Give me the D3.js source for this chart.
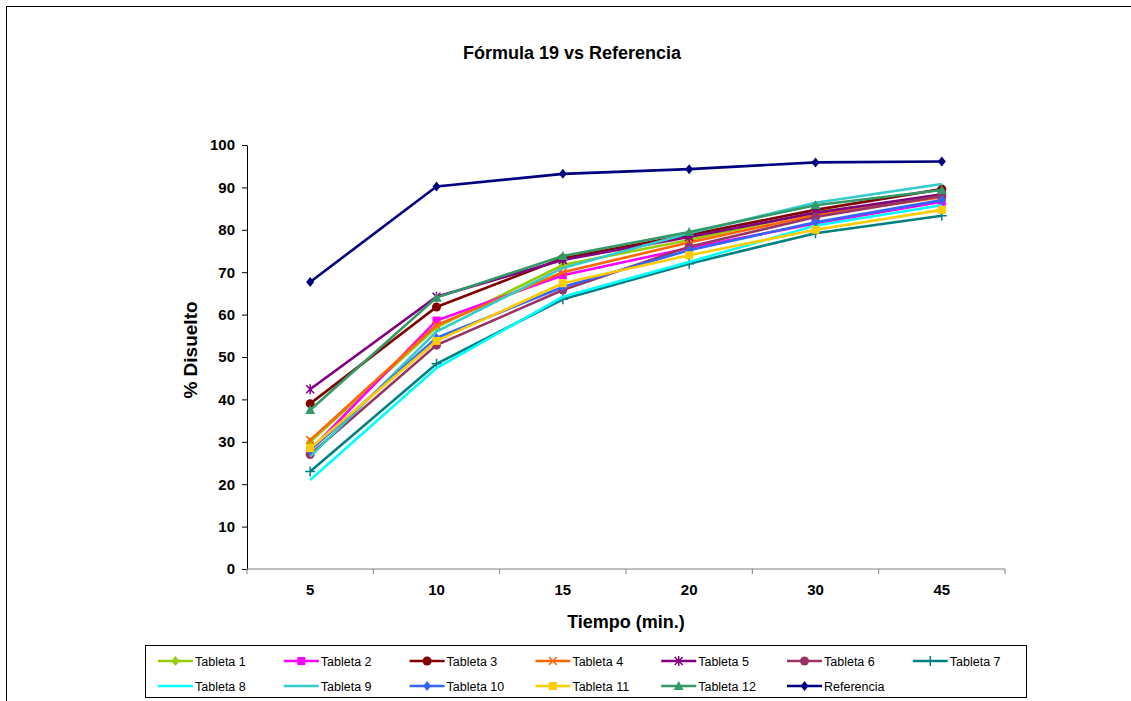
<!DOCTYPE html>
<html>
<head>
<meta charset="utf-8">
<script src="https://cdn.jsdelivr.net/npm/d3@7"></script>
<style>
  body { margin: 0; background: #fff; }
  svg { font-family: "Liberation Sans", Arial, sans-serif; }
</style>
</head>
<body>
<div id="chart"></div>
<script>
// data
const tiempos = ['5', '10', '15', '20', '30', '45'];
const yTicks = [0, 10, 20, 30, 40, 50, 60, 70, 80, 90, 100];

const tableta1 = [30.0, 57.0, 71.7, 77.6, 84.2, 87.8];
const tableta2 = [28.0, 58.6, 69.3, 75.7, 81.5, 86.6];
const tableta3 = [39.0, 61.8, 73.3, 78.8, 84.7, 89.6];
const tableta4 = [30.4, 57.5, 70.0, 77.0, 83.5, 87.7];
const tableta5 = [42.4, 64.2, 72.9, 78.3, 84.0, 88.4];
const tableta6 = [27.0, 52.8, 65.8, 76.0, 83.0, 88.0];
const tableta7 = [23.0, 48.4, 63.6, 72.0, 79.2, 83.3];
const tableta8 = [21.0, 47.4, 64.2, 72.4, 81.0, 85.8];
const tableta9 = [26.5, 56.0, 71.0, 79.2, 86.4, 90.8];
const tableta10 = [28.0, 54.5, 66.5, 75.2, 81.8, 87.0];
const tableta11 = [28.5, 53.8, 67.4, 74.0, 80.0, 84.7];
const tableta12 = [37.5, 64.0, 73.8, 79.5, 85.8, 89.4];
const referencia = [67.7, 90.2, 93.2, 94.3, 95.9, 96.1];

const series = [
  { name: 'Tableta 1', values: tableta1, color: '#99cc00', marker: 'diamond' },
  { name: 'Tableta 2', values: tableta2, color: '#ff00ff', marker: 'square' },
  { name: 'Tableta 3', values: tableta3, color: '#800000', marker: 'circle' },
  { name: 'Tableta 4', values: tableta4, color: '#ff6600', marker: 'x' },
  { name: 'Tableta 5', values: tableta5, color: '#800080', marker: 'star' },
  { name: 'Tableta 6', values: tableta6, color: '#993366', marker: 'circle' },
  { name: 'Tableta 7', values: tableta7, color: '#008080', marker: 'plus' },
  { name: 'Tableta 8', values: tableta8, color: '#00ffff', marker: 'dash' },
  { name: 'Tableta 9', values: tableta9, color: '#33cccc', marker: 'dash' },
  { name: 'Tableta 10', values: tableta10, color: '#3366ff', marker: 'diamond' },
  { name: 'Tableta 11', values: tableta11, color: '#ffcc00', marker: 'square' },
  { name: 'Tableta 12', values: tableta12, color: '#339966', marker: 'triangle' },
  { name: 'Referencia', values: referencia, color: '#000080', marker: 'diamond' }
];

const W = 1131, H = 701;
const plot = { left: 247, right: 1005, top: 145, bottom: 569 };

const svg = d3.select('#chart').append('svg')
  .attr('width', W).attr('height', H);

// outer chart frame (runs off the page on the right and bottom)
svg.append('rect')
  .attr('x', 6.5).attr('y', 6.5)
  .attr('width', W + 20).attr('height', H + 20)
  .attr('fill', 'none').attr('stroke', '#000').attr('stroke-width', 1);

svg.append('text')
  .attr('x', 572).attr('y', 59)
  .attr('text-anchor', 'middle')
  .style('font-size', '18px').style('font-weight', 'bold')
  .text('Fórmula 19 vs Referencia');

const x = d3.scaleBand().domain(tiempos).range([plot.left, plot.right]);
const y = d3.scaleLinear().domain([0, 100]).range([plot.bottom, plot.top]);
const cx = d => x(d) + x.bandwidth() / 2;

// y axis
svg.append('g')
  .attr('transform', `translate(${plot.left},0)`)
  .call(d3.axisLeft(y).tickValues(yTicks).tickSize(5).tickSizeOuter(0))
  .call(g => g.select('.domain').attr('stroke', '#000'))
  .call(g => g.selectAll('.tick line').attr('stroke', '#000'))
  .call(g => g.selectAll('.tick text')
    .attr('x', -12)
    .attr('fill', '#000')
    .style('font-size', '15px').style('font-weight', 'bold')
    .style('font-family', '"Liberation Sans", Arial, sans-serif'));

// x axis: labels centred in categories, ticks on boundaries
const xAxis = svg.append('g')
  .attr('transform', `translate(0,${plot.bottom})`);
xAxis.call(d3.axisBottom(x).tickSize(0).tickPadding(15))
  .call(g => g.select('.domain').remove())
  .call(g => g.selectAll('.tick text')
    .attr('fill', '#000')
    .style('font-size', '15px').style('font-weight', 'bold')
    .style('font-family', '"Liberation Sans", Arial, sans-serif'));
xAxis.append('line')
  .attr('x1', plot.left).attr('x2', plot.right)
  .attr('stroke', '#808080');
xAxis.selectAll('.bound')
  .data(tiempos.map(t => x(t)).concat([plot.right]))
  .enter().append('line')
  .attr('class', 'bound')
  .attr('x1', d => d).attr('x2', d => d)
  .attr('y1', 0).attr('y2', 5)
  .attr('stroke', '#808080');

svg.append('text')
  .attr('transform', 'translate(197,350) rotate(-90)')
  .attr('text-anchor', 'middle')
  .style('font-size', '19px').style('font-weight', 'bold')
  .text('% Disuelto');

svg.append('text')
  .attr('x', 626).attr('y', 628)
  .attr('text-anchor', 'middle')
  .style('font-size', '18px').style('font-weight', 'bold')
  .text('Tiempo (min.)');

function drawMarker(g, type, color, px, py) {
  const s = 4;
  if (type === 'diamond') {
    g.append('path')
      .attr('d', `M${px},${py - s - 1}L${px + s},${py}L${px},${py + s + 1}L${px - s},${py}Z`)
      .attr('fill', color);
  } else if (type === 'square') {
    g.append('rect')
      .attr('x', px - s).attr('y', py - s).attr('width', 2 * s).attr('height', 2 * s)
      .attr('fill', color);
  } else if (type === 'circle') {
    g.append('circle').attr('cx', px).attr('cy', py).attr('r', s + 0.5).attr('fill', color);
  } else if (type === 'triangle') {
    g.append('path')
      .attr('d', `M${px},${py - s - 1}L${px + s + 1},${py + s}L${px - s - 1},${py + s}Z`)
      .attr('fill', color);
  } else if (type === 'x') {
    g.append('path')
      .attr('d', `M${px - s},${py - s}L${px + s},${py + s}M${px - s},${py + s}L${px + s},${py - s}`)
      .attr('stroke', color).attr('stroke-width', 1.5);
  } else if (type === 'star') {
    g.append('path')
      .attr('d', `M${px - s},${py - s}L${px + s},${py + s}M${px - s},${py + s}L${px + s},${py - s}M${px},${py - s - 1}L${px},${py + s + 1}`)
      .attr('stroke', color).attr('stroke-width', 1.5);
  } else if (type === 'plus') {
    g.append('path')
      .attr('d', `M${px - s - 1},${py}L${px + s + 1},${py}M${px},${py - s - 1}L${px},${py + s + 1}`)
      .attr('stroke', color).attr('stroke-width', 1.5);
  }
}

const line = d3.line()
  .x((d, i) => cx(tiempos[i]))
  .y(d => y(d));

series.forEach(s => {
  const g = svg.append('g');
  g.append('path')
    .datum(s.values)
    .attr('fill', 'none')
    .attr('stroke', s.color)
    .attr('stroke-width', 2.6)
    .attr('d', line);
  s.values.forEach((v, i) => drawMarker(g, s.marker, s.color, cx(tiempos[i]), y(v)));
});

// legend
const leg = { x: 145.5, y: 645.5, w: 881, h: 52 };
svg.append('rect')
  .attr('x', leg.x).attr('y', leg.y).attr('width', leg.w).attr('height', leg.h)
  .attr('fill', '#fff').attr('stroke', '#000');

series.forEach((s, i) => {
  const col = i % 7, row = Math.floor(i / 7);
  const lx = 158 + col * 125.8, ly = 661 + row * 25;
  const g = svg.append('g');
  g.append('line')
    .attr('x1', lx).attr('x2', lx + 35).attr('y1', ly).attr('y2', ly)
    .attr('stroke', s.color).attr('stroke-width', 2.6);
  drawMarker(g, s.marker, s.color, lx + 17.5, ly);
  g.append('text')
    .attr('x', lx + 37).attr('y', ly + 4.5)
    .style('font-size', '12.5px')
    .text(s.name);
});
</script>
</body>
</html>
